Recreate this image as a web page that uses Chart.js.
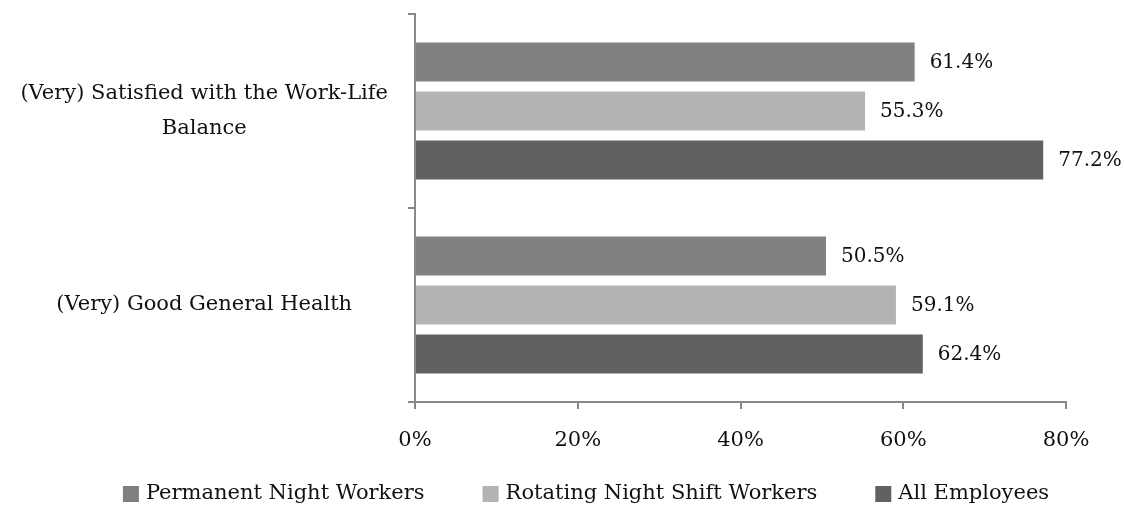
<!DOCTYPE html>
<html>
<head>
<meta charset="utf-8">
<script src="https://cdn.jsdelivr.net/npm/chart.js@4/dist/chart.umd.min.js"></script>
<style>
html,body{margin:0;padding:0;background:#fff;}
#wrap{width:1124px;height:506px;position:relative;}
</style>
</head>
<body>
<div id="wrap"><canvas id="c" width="1124" height="506"></canvas></div>
<script>
const categories = [["(Very) Satisfied with the Work-Life","Balance"], "(Very) Good General Health"];
const seriesNames = ["Permanent Night Workers", "Rotating Night Shift Workers", "All Employees"];
const permanentNight = [61.4, 50.5];
const rotatingNight = [55.3, 59.1];
const allEmployees = [77.2, 62.4];
const xTicks = [0, 20, 40, 60, 80];
const colors = ["#808080", "#b3b3b3", "#616161"];

const FONT = "'DejaVu Serif', 'Liberation Serif', serif";
const FSIZE = 21;

const valueLabels = {
  id: 'valueLabels',
  afterDatasetsDraw(chart) {
    const ctx = chart.ctx;
    ctx.save();
    ctx.font = "20px " + FONT;
    ctx.fillStyle = "#111";
    ctx.textAlign = "left";
    ctx.textBaseline = "middle";
    chart.data.datasets.forEach((ds, i) => {
      const meta = chart.getDatasetMeta(i);
      meta.data.forEach((bar, j) => {
        ctx.fillText(ds.data[j].toFixed(1) + "%", bar.x + 15, bar.y + 1);
      });
    });
    ctx.restore();
  }
};

const customLegend = {
  id: 'customLegend',
  afterDraw(chart) {
    const ctx = chart.ctx;
    ctx.save();
    ctx.font = FSIZE + "px " + FONT;
    ctx.textBaseline = "middle";
    ctx.textAlign = "left";
    const box = 16, gap = 7, spacing = 58, cy = 494;
    const items = chart.data.datasets.map(ds => ({ text: ds.label, color: ds.backgroundColor, w: ctx.measureText(ds.label).width }));
    const total = items.reduce((a, it) => a + box + gap + it.w, 0) + spacing * (items.length - 1);
    let x = 586 - total / 2;
    items.forEach(it => {
      ctx.fillStyle = it.color;
      ctx.fillRect(x, cy - box / 2, box, box);
      ctx.fillStyle = "#111";
      ctx.fillText(it.text, x + box + gap, cy);
      x += box + gap + it.w + spacing;
    });
    ctx.restore();
  }
};

function noPad(s) { s.paddingTop = 0; s.paddingBottom = 0; s.paddingLeft = 0; s.paddingRight = 0; }

new Chart(document.getElementById('c'), {
  type: 'bar',
  data: {
    labels: categories,
    datasets: [
      { label: seriesNames[0], data: permanentNight, backgroundColor: colors[0] },
      { label: seriesNames[1], data: rotatingNight, backgroundColor: colors[1] },
      { label: seriesNames[2], data: allEmployees, backgroundColor: colors[2] }
    ]
  },
  options: {
    indexAxis: 'y',
    responsive: false,
    animation: false,
    devicePixelRatio: 1,
    categoryPercentage: 0.758,
    barPercentage: 0.796,
    layout: { padding: { left: 0, right: 58, top: 14, bottom: 0 } },
    scales: {
      x: {
        min: 0, max: 80,
        afterBuildTicks(s) { s.ticks = xTicks.map(v => ({ value: v })); },
        ticks: { callback: v => v + "%", color: "#111", font: { family: FONT, size: FSIZE }, padding: 19, maxRotation: 0 },
        grid: { drawOnChartArea: false, tickLength: 7, color: "#888", lineWidth: 2 },
        border: { color: "#888", width: 2 },
        afterFit(s) { s.height = 104; noPad(s); }
      },
      y: {
        ticks: { color: "#111", font: { family: FONT, size: FSIZE, lineHeight: 1.67 }, crossAlign: 'center', padding: 20 },
        grid: { drawOnChartArea: false, tickLength: 7, color: "#888", lineWidth: 2, offset: true },
        border: { color: "#888", width: 2 },
        afterFit(s) { s.width = 415; noPad(s); }
      }
    },
    plugins: {
      legend: { display: false },
      tooltip: { enabled: false }
    }
  },
  plugins: [valueLabels, customLegend]
});
</script>
</body>
</html>
